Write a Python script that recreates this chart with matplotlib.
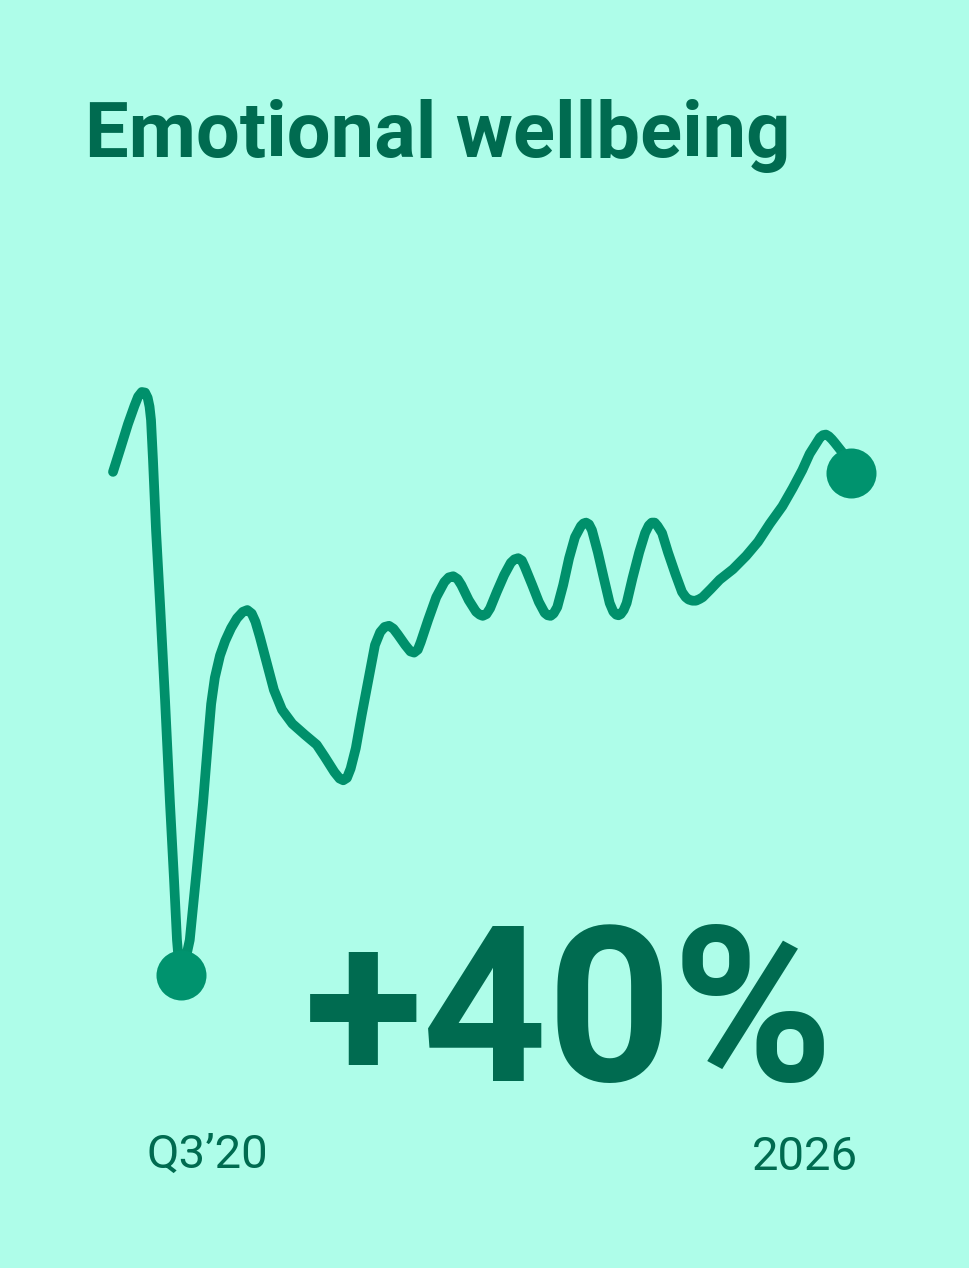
import matplotlib
matplotlib.use("Agg")
import matplotlib.pyplot as plt
import numpy as np

# wellbeing index over time (0 = low point, 100 = early peak)
t = [0, 0.95, 2.03, 2.9, 3.4, 3.9, 4.35, 4.7, 4.95, 5.15, 5.42, 5.83, 6.37, 7.05, 7.72, 8.27,
     8.67, 8.95, 9.21, 9.8, 10.4, 11.3, 12.2, 12.9, 13.3, 13.8, 14.5, 15.2, 16.0, 16.8, 17.6,
     18.2, 18.8, 19.3, 19.9, 20.9, 21.8, 22.9, 24.3, 26.0, 27.6, 28.7, 30.0, 30.7, 31.2, 31.7,
     32.2, 32.9, 33.7, 34.6, 35.5, 36.2, 36.8, 37.4, 38.0, 38.6, 39.6, 40.3, 40.8, 41.3, 41.7,
     42.7, 43.8, 44.9, 45.5, 46.1, 46.7, 47.2, 48.2, 49.2, 49.7, 50.1, 50.6, 51.1, 52.0, 53.0,
     53.9, 54.4, 54.9, 55.4, 55.8, 56.8, 57.7, 58.5, 58.9, 59.3, 59.7, 60.2, 61.0, 61.8, 62.6,
     63.4, 63.75, 64.1, 64.5, 64.9, 65.7, 66.5, 67.3, 67.8, 68.2, 68.5, 68.8, 69.2, 69.6, 70.4,
     71.3, 72.1, 72.6, 73.0, 73.4, 73.8, 74.4, 75.2, 76.2, 77.1, 77.6, 78.0, 78.5, 79.0, 79.5,
     79.9, 81.0, 82.2, 84.0, 85.8, 87.4, 89.0, 90.7, 92.1, 93.4, 94.4, 95.4, 95.8, 96.2, 96.6,
     97.0, 97.4, 97.8, 98.8, 100]
score = [86.3, 90.1, 94.5, 97.6, 99.2, 100, 99.9, 99.0, 97.5, 95.2, 88.3, 76.3, 63.8, 47.2,
         29.5, 16.3, 6.0, 1.8, 0, 2.5, 6.0, 17.5, 29.5, 40.5, 46.5, 51.0, 54.8, 57.3, 59.5,
         61.2, 62.3, 62.6, 62.0, 60.6, 58.0, 53.2, 48.9, 45.5, 43.1, 41.2, 39.5, 37.4, 34.8,
         33.7, 33.4, 33.8, 35.4, 38.9, 44.6, 50.6, 56.6, 58.8, 59.7, 59.9, 59.4, 58.4, 56.6,
         55.5, 55.3, 55.8, 57.1, 60.9, 64.8, 67.4, 68.2, 68.4, 67.9, 66.9, 64.3, 62.3, 61.8,
         61.6, 61.9, 62.9, 65.7, 68.6, 70.7, 71.3, 71.5, 71.1, 70.0, 66.9, 64.0, 62.1, 61.7,
         61.6, 62.0, 63.1, 66.9, 71.5, 75.1, 77.0, 77.45, 77.6, 77.3, 76.3, 72.5, 68.1, 63.8,
         62.3, 61.8, 61.7, 61.9, 62.6, 63.8, 68.1, 72.5, 75.8, 77.1, 77.6, 77.6, 77.0, 75.8,
         72.5, 68.8, 65.7, 64.8, 64.4, 64.2, 64.2, 64.5, 64.8, 66.2, 67.8, 69.6, 71.9, 74.3,
         77.4, 80.4, 83.5, 86.6, 89.4, 91.4, 92.2, 92.6, 92.7, 92.4, 91.9, 91.3, 89.7, 86.1]

title = "Emotional wellbeing"
change_label = "+40%"
start_label = "Q3\u201920"
end_label = "2026"

bg = "#aefde9"
line_col = "#00906b"
dot_col = "#00936e"
dark = "#006b50"

W, H = 970, 1268
fig = plt.figure(figsize=(W / 100, H / 100), dpi=100, facecolor=bg)

ax = fig.add_axes([113 / W, (H - 975) / H, (851 - 113) / W, (975 - 392) / H])
ax.set_facecolor(bg)
ax.plot(t, score, color=line_col, lw=7.0, solid_capstyle="round", solid_joinstyle="round",
        clip_on=False, zorder=2)
i_min = int(np.argmin(score))
ax.scatter([t[i_min], t[-1]], [score[i_min], score[-1]], s=36 ** 2, color=dot_col,
           zorder=3, clip_on=False, linewidths=0)
ax.set_xlim(0, 100)
ax.set_ylim(0, 100)
ax.axis("off")

fig.text(85 / W, (H - 157) / H, title, fontsize=56, fontweight="bold", family="Roboto",
         color=dark, va="baseline", ha="left")
fig.text(304 / W, (H - 1081) / H, change_label, fontsize=157, fontweight="bold",
         family="Roboto", color=dark, va="baseline", ha="left")
fig.text(147 / W, (H - 1168) / H, start_label, fontsize=34, family="Roboto",
         color=dark, va="baseline", ha="left")
fig.text(858 / W, (H - 1170) / H, end_label, fontsize=34, family="Roboto",
         color=dark, va="baseline", ha="right")

fig.savefig("out.png", dpi=100, facecolor=bg)
